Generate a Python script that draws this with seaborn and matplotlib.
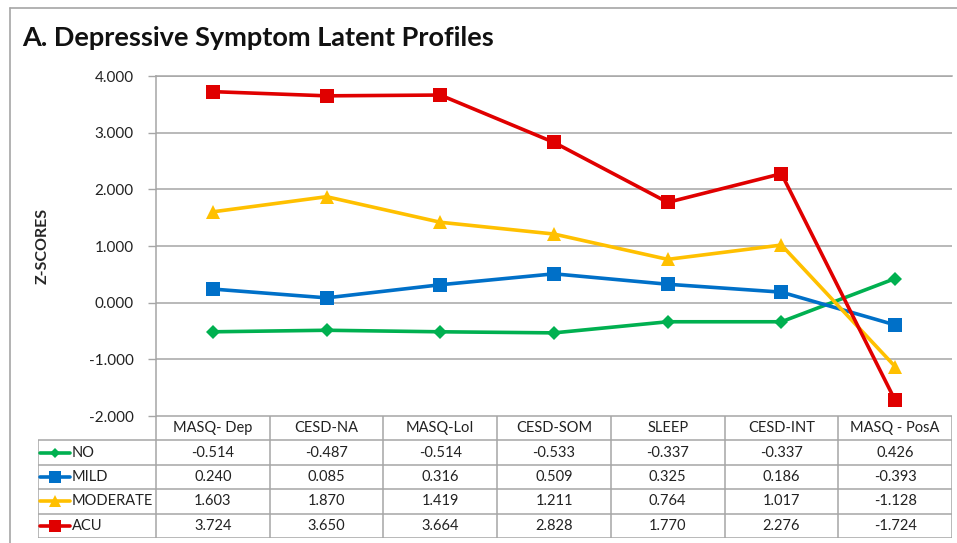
import pandas as pd
import matplotlib.pyplot as plt
import seaborn as sns
from matplotlib.lines import Line2D

# chart values
measures = ["MASQ- Dep", "CESD-NA", "MASQ-LoI", "CESD-SOM", "SLEEP", "CESD-INT", "MASQ - PosA"]
profiles = ["NO", "MILD", "MODERATE", "ACU"]
no_vals = [-0.514, -0.487, -0.514, -0.533, -0.337, -0.337, 0.426]
mild_vals = [0.240, 0.085, 0.316, 0.509, 0.325, 0.186, -0.393]
moderate_vals = [1.603, 1.870, 1.419, 1.211, 0.764, 1.017, -1.128]
acu_vals = [3.724, 3.650, 3.664, 2.828, 1.770, 2.276, -1.724]

colors = {"NO": "#00B050", "MILD": "#0070C8", "MODERATE": "#FFC000", "ACU": "#E00000"}
markers = {"NO": "D", "MILD": "s", "MODERATE": "^", "ACU": "s"}
msizes = {"NO": 7, "MILD": 10, "MODERATE": 10, "ACU": 10}

rows = []
for name, vals in zip(profiles, [no_vals, mild_vals, moderate_vals, acu_vals]):
    for m, v in zip(measures, vals):
        rows.append({"measure": m, "z": v, "profile": name})
df = pd.DataFrame(rows)

sns.set_style("white")
plt.rcParams['font.family'] = ['Lato', 'DejaVu Sans']

W, H = 957, 543
fig = plt.figure(figsize=(W / 100, H / 100), dpi=100)

def fx(px):
    return px / W

def fy(py):
    return 1 - py / H

gray = "#A6A6A6"

# --- main line chart ---
ax = fig.add_axes([fx(156), fy(416), fx(952) - fx(156), fy(76) - fy(416)])
for name in profiles:
    sub = df[df["profile"] == name]
    sns.lineplot(data=sub, x="measure", y="z", color=colors[name], marker=markers[name],
                 markersize=msizes[name], markeredgewidth=0, linewidth=2.6, sort=False,
                 legend=False, ax=ax)
ax.set_xlim(-0.5, len(measures) - 0.5)
ax.set_ylim(-2, 4)
ax.set_yticks([-2, -1, 0, 1, 2, 3, 4])
ax.set_yticklabels([f"{t:.3f}" for t in [-2, -1, 0, 1, 2, 3, 4]], fontsize=11, color="#222222")
ax.set_xticks([])
ax.set_xlabel("")
ax.set_ylabel("Z-SCORES", fontsize=11.5, fontweight="bold", labelpad=28)
ax.yaxis.grid(True, color=gray, linewidth=1.1)
ax.tick_params(axis="y", length=6, width=1, color=gray, pad=10, left=True)
for s in ["left", "top", "right", "bottom"]:
    ax.spines[s].set_color(gray)
    ax.spines[s].set_linewidth(1.1)
ax.spines["right"].set_visible(False)
ax.spines["bottom"].set_visible(False)

# --- data table under the chart ---
tab = fig.add_axes([fx(38), fy(538), fx(952) - fx(38), fy(416) - fy(538)])
label_w = (156 - 38) / ((952 - 156) / len(measures))
x0 = -0.5 - label_w
tab.set_xlim(x0, len(measures) - 0.5)
tab.set_ylim(5, 0)
tab.axis("off")

lw = 1.1
tab.hlines(0, -0.5, len(measures) - 0.5, color=gray, lw=lw)
for r in range(1, 6):
    tab.hlines(r, x0, len(measures) - 0.5, color=gray, lw=lw)
tab.vlines(x0, 1, 5, color=gray, lw=lw)
for c in range(len(measures) + 1):
    tab.vlines(c - 0.5, 0, 5, color=gray, lw=lw)

for c, m in enumerate(measures):
    tab.text(c, 0.5, m, ha="center", va="center", fontsize=10.5, color="#222222")

all_vals = [no_vals, mild_vals, moderate_vals, acu_vals]
for r, (name, vals) in enumerate(zip(profiles, all_vals), start=1):
    for c, v in enumerate(vals):
        tab.text(c, r + 0.5, f"{v:.3f}", ha="center", va="center", fontsize=10.5, color="#222222")
    kx0, kx1 = x0 + 0.02, x0 + 0.28
    tab.add_line(Line2D([kx0, kx1], [r + 0.5, r + 0.5], color=colors[name], lw=2.6))
    tab.plot([(kx0 + kx1) / 2], [r + 0.5], marker=markers[name], color=colors[name],
             markersize=msizes[name] * 0.8, markeredgewidth=0)
    tab.text(kx1 + 0.02, r + 0.5, name, ha="left", va="center", fontsize=10.5, color="#222222")

# title and outer frame
fig.text(fx(22), fy(38), "A. Depressive Symptom Latent Profiles", fontsize=19.5,
         fontweight="bold", ha="left", va="center", color="#111111")
fig.add_artist(Line2D([fx(10), 1], [fy(8), fy(8)], color=gray, lw=1.2))
fig.add_artist(Line2D([fx(10), fx(10)], [fy(8), 0], color=gray, lw=1.2))

fig.savefig("out.png", dpi=100)
